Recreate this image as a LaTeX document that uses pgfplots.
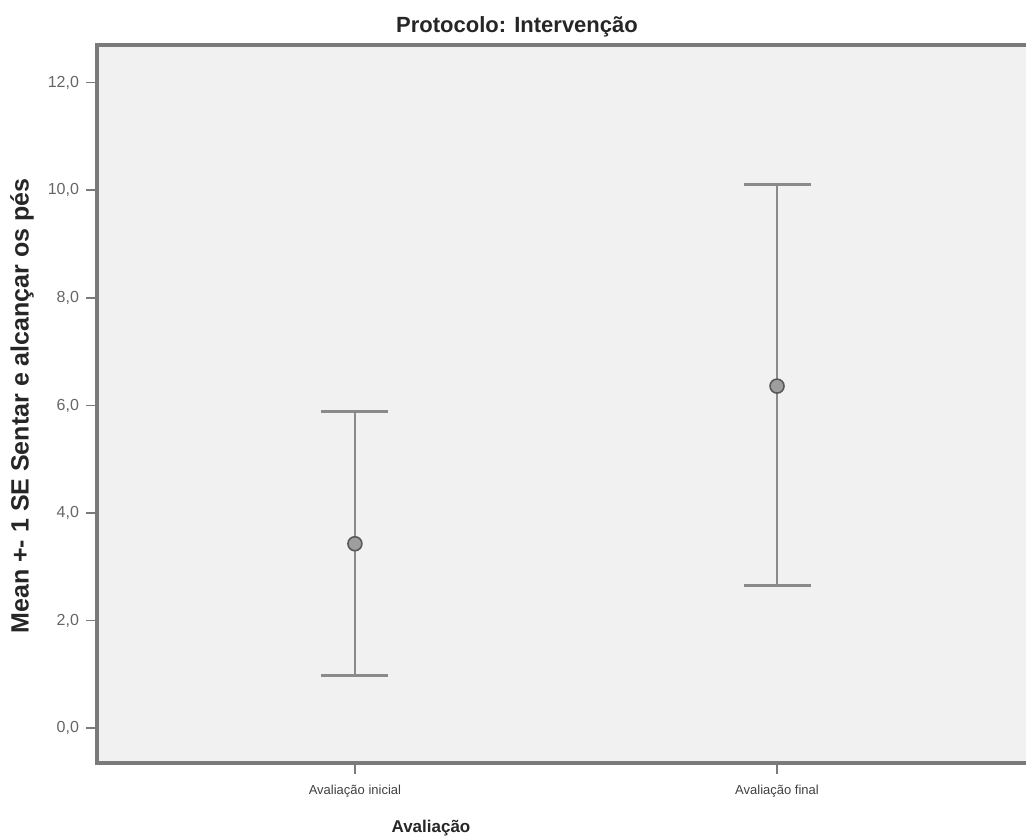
\documentclass[border=0pt]{standalone}
\usepackage{pgfplots}
\pgfplotsset{compat=1.18}
\usepackage{fontspec}
\setmainfont{Liberation Sans}
\definecolor{bg}{HTML}{F0F1F0}
\definecolor{frame}{HTML}{7A7A7A}
\definecolor{barc}{HTML}{8A8A8A}
\begin{document}
\begin{tikzpicture}[x=1pt,y=1pt]
\useasboundingbox (-48.5,-38) rectangle (464.5,381.5);
\begin{axis}[
  at={(0,0)}, anchor=south west,
  scale only axis, width=471.5pt, height=359pt,
  xmin=-0.611, xmax=1.623, ymin=-0.645, ymax=12.70,
  axis background/.style={fill=bg},
  axis line style={frame, line width=1.6pt},
  xtick={0,1}, xticklabels={Avaliação inicial, Avaliação final},
  ytick={0,2,...,12},
  xtick pos=lower, ytick pos=left,
  tick align=outside, major tick length=5.5pt,
  tick style={frame, line width=0.8pt},
  yticklabel style={font=\fontsize{8}{9}\selectfont, text=black!60},
  xticklabel style={font=\fontsize{6.5}{7}\selectfont, text=black!75, yshift=-2pt},
  /pgf/number format/fixed, /pgf/number format/fixed zerofill,
  /pgf/number format/precision=1, /pgf/number format/use comma,
  /pgf/number format/assume math mode=true,
]
\addplot[draw=none, mark=none, error bars/.cd, y dir=both, y explicit,
  error bar style={barc, line width=1.3pt},
  error mark=|, error mark options={barc, line width=1.5pt, mark size=16.75pt}]
  coordinates {(0,3.43) +- (0,2.455) (1,6.38) +- (0,3.72)};
\addplot[only marks, mark=*, mark size=3.5pt,
  mark options={fill=black!38, draw=black!65, line width=0.8pt}]
  coordinates {(0,3.43) (1,6.36)};
\end{axis}
\node[font=\bfseries\fontsize{11}{13}\selectfont, text=black!85] at (210,368) {Protocolo: Intervenção};
\node[font=\bfseries\fontsize{8.5}{10}\selectfont, text=black!85] at (167,-32.5) {Avaliação};
\node[rotate=90, font=\bfseries\fontsize{12.5}{14}\selectfont, text=black!85] at (-37.5,178.5) {Mean +- 1 SE Sentar e alcançar os pés};
\end{tikzpicture}
\end{document}
